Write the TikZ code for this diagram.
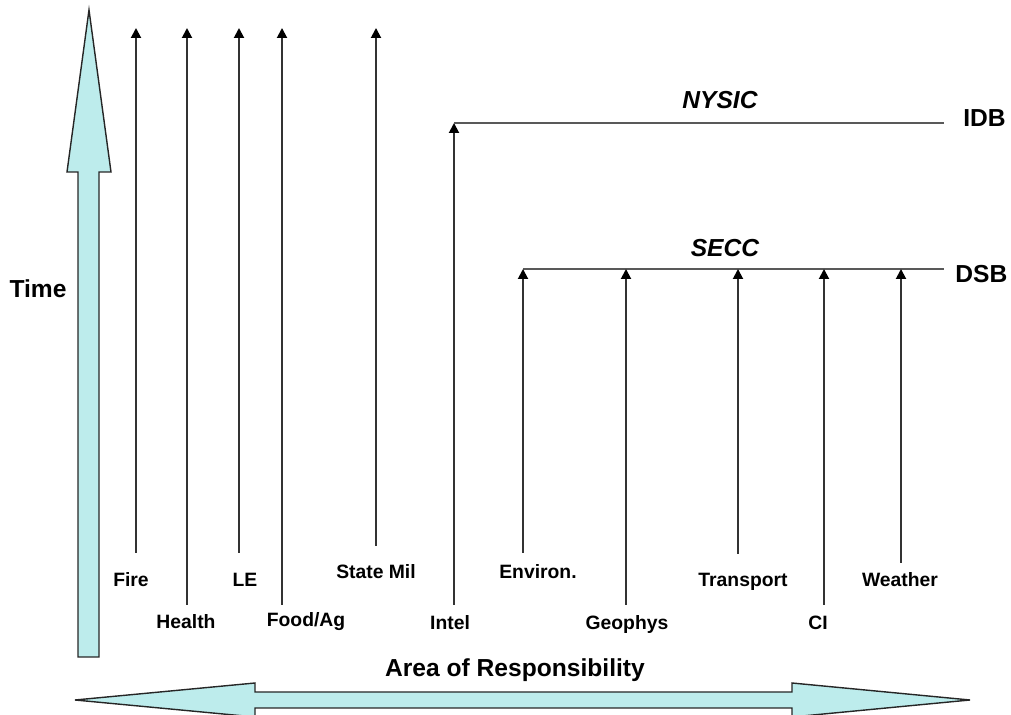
\documentclass[tikz,border=0pt]{standalone}
\usepackage{fontspec}
\setmainfont{Liberation Sans}
\usetikzlibrary{arrows.meta}
\definecolor{axisfill}{RGB}{189,236,236}
\tikzset{
  flow/.style={line width=1.1pt, color=black!80, -{Triangle[length=2mm,width=2mm,color=black]}},
  bar/.style={line width=1.1pt, color=black!65},
  lbl/.style={font=\bfseries\fontsize{11}{13}\selectfont, inner sep=0pt, anchor=base},
  big/.style={font=\bfseries\fontsize{14}{17}\selectfont, inner sep=0pt, anchor=base},
  hub/.style={font=\bfseries\itshape\fontsize{14}{17}\selectfont, inner sep=0pt, anchor=base},
  axisarrow/.style={draw=black!85, line width=0.8pt, fill=axisfill, line join=miter}
}

\begin{document}
\begin{tikzpicture}[x=0.02cm, y=-0.02cm]
			\useasboundingbox (0,0) rectangle (1011,715);
			%%%%% START %%%%%
			
			% time axis
			\draw[axisarrow] (89,10) -- (111,172) -- (99,172) -- (99,657) -- (78,657) -- (78,172) -- (67,172) -- cycle;
			\node[big] (time) at (38,298) {Time};
			
			% responsibility axis
			\draw[axisarrow] (75,700) -- (255,683) -- (255,692) -- (792,692) -- (792,683) -- (970,700) -- (792,717) -- (792,708) -- (255,708) -- (255,717) -- cycle;
			\node[big] (aor) at (515,677) {Area of Responsibility};
			
			% separate agencies
			\node[lbl] (fire) at (131,587) {Fire};
			\node[lbl] (health) at (186,629) {Health};
			\node[lbl] (le) at (245,587) {LE};
			\node[lbl] (food) at (306,627) {Food/Ag};
			\node[lbl] (statemil) at (376,579) {State Mil};
			
			\coordinate (fire-a) at (136,553);
			\coordinate (fire-b) at (136,28);
			\coordinate (health-a) at (187,605);
			\coordinate (health-b) at (187,28);
			\coordinate (le-a) at (239,553);
			\coordinate (le-b) at (239,28);
			\coordinate (food-a) at (282,605);
			\coordinate (food-b) at (282,28);
			\coordinate (statemil-a) at (376,546);
			\coordinate (statemil-b) at (376,28);
			
			\draw[flow] (fire-a) -- (fire-b);
			\draw[flow] (health-a) -- (health-b);
			\draw[flow] (le-a) -- (le-b);
			\draw[flow] (food-a) -- (food-b);
			\draw[flow] (statemil-a) -- (statemil-b);
			
			% intel into NYSIC
			\node[lbl] (intel) at (450,630) {Intel};
			\coordinate (intel-a) at (454,605);
			\coordinate (intel-b) at (454,123);
			\coordinate (idb-r) at (944,123);
			\draw[flow] (intel-a) -- (intel-b);
			\draw[bar] (intel-b) -- (idb-r);
			\node[hub] (nysic) at (720,109) {NYSIC};
			\node[big, anchor=base west] (idb) at (963,127) {IDB};
			
			% SECC group
			\coordinate (dsb-l) at (523,269);
			\coordinate (dsb-r) at (944,269);
			\draw[bar] (dsb-l) -- (dsb-r);
			\node[hub] (secc) at (725,257) {SECC};
			\node[big, anchor=base west] (dsb) at (955,283) {DSB};
			
			\node[lbl] (environ) at (538,579) {Environ.};
			\node[lbl] (geophys) at (627,630) {Geophys};
			\node[lbl] (transport) at (743,587) {Transport};
			\node[lbl] (ci) at (818,630) {CI};
			\node[lbl] (weather) at (900,587) {Weather};
			
			\coordinate (environ-a) at (523,553);
			\coordinate (geophys-a) at (626,605);
			\coordinate (geophys-b) at (626,269);
			\coordinate (transport-a) at (738,554);
			\coordinate (transport-b) at (738,269);
			\coordinate (ci-a) at (824,605);
			\coordinate (ci-b) at (824,269);
			\coordinate (weather-a) at (901,563);
			\coordinate (weather-b) at (901,269);
			
			\draw[flow] (environ-a) -- (dsb-l);
			\draw[flow] (geophys-a) -- (geophys-b);
			\draw[flow] (transport-a) -- (transport-b);
			\draw[flow] (ci-a) -- (ci-b);
			\draw[flow] (weather-a) -- (weather-b);
			
			%%%%% END %%%%%
\end{tikzpicture}
\end{document}
